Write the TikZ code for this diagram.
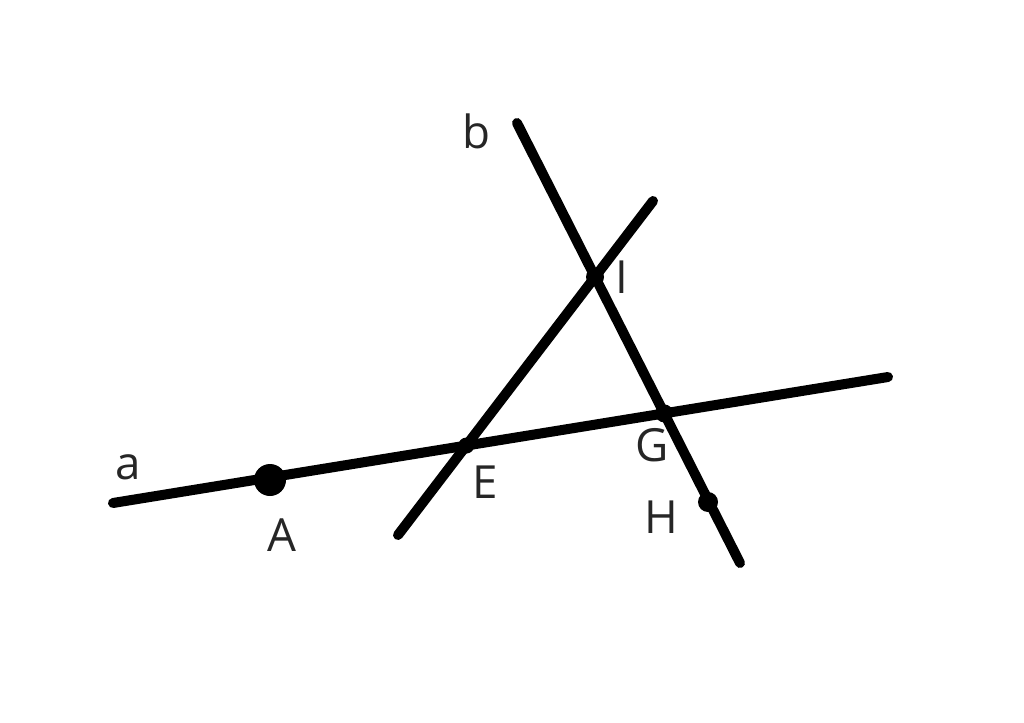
\documentclass[tikz,border=0pt]{standalone}
\usepackage{fontspec}
\setmainfont{Open Sans}
\usetikzlibrary{intersections}
\begin{document}
\begin{tikzpicture}[x=0.02cm,y=-0.02cm,
  ln/.style={line width=10*0.02cm*28.45pt/1cm, line cap=round},
  lbl/.style={font=\fontsize{26}{26}\selectfont, inner sep=0pt, text=black!85}]
\useasboundingbox (0,0) rectangle (1024,723);
\coordinate (a1) at (113,503);
\coordinate (a2) at (888,377);
\coordinate (b1) at (517,123);
\coordinate (b2) at (740,563);
\coordinate (c1) at (398,535);
\coordinate (c2) at (653,201);
\draw[line width=5.7pt, line cap=round, name path=la] (a1) -- (a2);
\draw[line width=5.7pt, line cap=round, name path=lb] (b1) -- (b2);
\draw[line width=5.7pt, line cap=round, name path=lc] (c1) -- (c2);
\path[name intersections={of=la and lc, by=E}];
\path[name intersections={of=la and lb, by=G}];
\path[name intersections={of=lb and lc, by=I}];
\coordinate (A) at (270,480);
\coordinate (H) at (708,502);
\fill (A) circle (16);
\fill (E) circle (8);
\fill (G) circle (9);
\fill (I) circle (9);
\fill (H) circle (10);
\node[lbl] (la) at (128,467) {a};
\node[lbl] (lb) at (476,131) {b};
\node[lbl] (lA) at (282,535) {A};
\node[lbl] (lE) at (485,482) {E};
\node[lbl] (lG) at (652,445) {G};
\node[lbl] (lH) at (661,517) {H};
\node[lbl] (lI) at (622,277) {I};
\end{tikzpicture}
\end{document}
